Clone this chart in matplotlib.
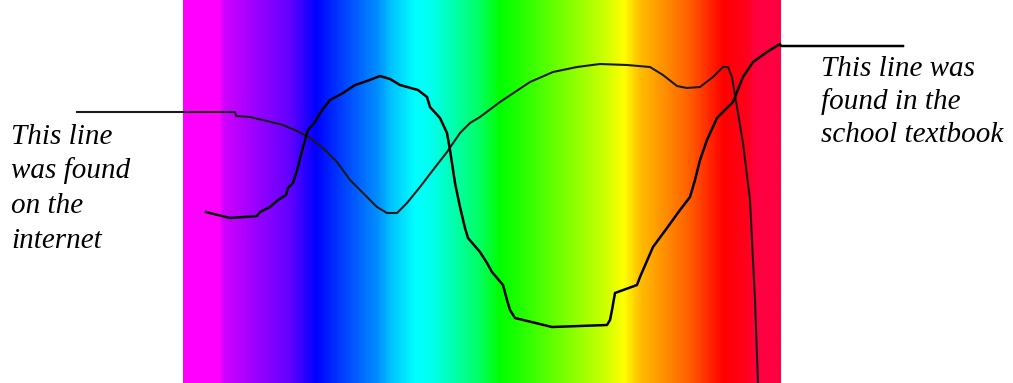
import numpy as np
import matplotlib.pyplot as plt
from matplotlib.colors import LinearSegmentedColormap

# spectrum colour stops (pixel position across the band, colour)
band_px = [183, 218, 222, 290, 315, 335, 378, 390, 415, 430, 480, 500, 520, 600,
           625, 640, 690, 725, 750, 757, 781]
band_colors = ['#ff00ff', '#ff00ff', '#d000ff', '#6000ff', '#0000ff', '#0030ff',
               '#0090ff', '#00c0ff', '#00ffff', '#00fff0', '#00ff60', '#00ff00',
               '#20ff00', '#c0ff00', '#ffff00', '#ffc000', '#ff6000', '#ff0000',
               '#ff0020', '#ff0040', '#ff0040']

# line found on the internet (image coords)
internet_x = [77, 235, 236, 250, 267, 283, 297, 310, 323, 337, 350, 363, 377, 387,
              397, 407, 420, 433, 447, 460, 470, 480, 500, 530, 553, 577, 600, 627,
              650, 663, 677, 687, 700, 713, 723, 728, 732, 737, 743, 750, 755, 758]
internet_y = [112, 112, 116, 117, 121, 125, 131, 138, 148, 162, 180, 193, 207, 213,
              213, 203, 187, 170, 152, 133, 123, 117, 102, 82, 72, 67, 64, 65,
              67, 75, 86, 88, 87, 77, 67, 67, 77, 107, 143, 200, 300, 383]

# line found in the school textbook
school_x = [206, 230, 257, 260, 270, 278, 286, 288, 293, 298, 303, 308, 315, 322,
            330, 343, 355, 367, 380, 390, 400, 418, 427, 430, 440, 447, 450, 455,
            460, 465, 468, 480, 487, 492, 503, 507, 510, 515, 552, 607, 610, 612,
            615, 637, 640, 653, 667, 680, 690, 695, 700, 707, 717, 733, 743, 753,
            767, 780, 781, 903]
school_y = [212, 218, 216, 212, 207, 200, 195, 188, 183, 167, 147, 130, 122, 110,
            100, 93, 85, 81, 76, 79, 85, 90, 97, 107, 118, 133, 150, 183,
            207, 228, 238, 252, 263, 272, 285, 300, 310, 318, 327, 325, 320, 310,
            293, 285, 277, 247, 228, 210, 197, 180, 160, 140, 118, 102, 77, 62,
            52, 44, 46, 46]

fig = plt.figure(figsize=(10.13, 3.83), dpi=100)
ax = fig.add_axes([0, 0, 1, 1])
ax.set_xlim(0, 1013)
ax.set_ylim(383, 0)
ax.axis('off')

stops = [(p - band_px[0]) / (band_px[-1] - band_px[0]) for p in band_px]
cmap = LinearSegmentedColormap.from_list('spectrum', list(zip(stops, band_colors)))
grad = np.linspace(0, 1, 600).reshape(1, -1)
ax.imshow(grad, cmap=cmap, aspect='auto', extent=[183, 781, 383, 0], interpolation='bilinear')

ax.plot(internet_x, internet_y, color='#1a1a1a', lw=1.5)
ax.plot(school_x, school_y, color='black', lw=1.8)

font = dict(family='Liberation Serif', style='italic', fontsize=21, color='black')
for i, line in enumerate(['This line', 'was found', 'on the', 'internet']):
    ax.text(11, 144 + 34.5 * i, line, va='baseline', ha='left', **font)
for i, line in enumerate(['This line was', 'found in the', 'school textbook']):
    ax.text(821, 76 + 33 * i, line, va='baseline', ha='left', **font)

fig.savefig('out.png', dpi=100)
